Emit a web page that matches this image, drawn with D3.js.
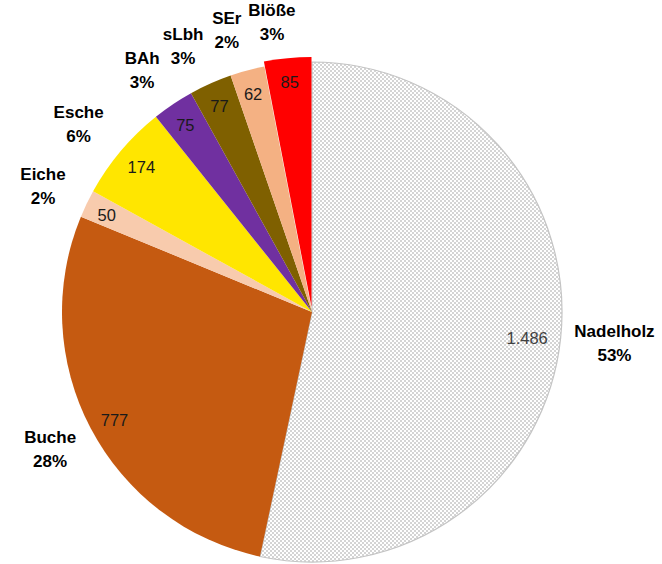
<!DOCTYPE html>
<html><head><meta charset="utf-8">
<script src="https://cdn.jsdelivr.net/npm/d3@7"></script>
<style>html,body{margin:0;padding:0;background:#fff;}svg{display:block;}</style>
</head><body>
<svg id="c" width="662" height="564"></svg>
<script>
const categories = ["Nadelholz","Buche","Eiche","Esche","BAh","sLbh","SEr","Blöße"];
const values = [1486,777,50,174,75,77,62,85];
const valueLabels = ["1.486","777","50","174","75","77","62","85"];
const percentLabels = ["53%","28%","2%","6%","3%","3%","2%","3%"];
const colors = ["url(#chk)","#c55a11","#f8cbad","#ffe600","#7030a0","#7f6000","#f4b183","#ff0000"];
const exploded = ["Blöße"];

const svg = d3.select("#c");
const cx = 312, cy = 312, R = 250;
const FONT = "Liberation Sans, Arial, sans-serif";
const defs = svg.append("defs");
const pat = defs.append("pattern").attr("id","chk").attr("patternUnits","userSpaceOnUse")
  .attr("width",4).attr("height",4);
pat.append("rect").attr("width",4).attr("height",4).attr("fill","#ffffff");
pat.append("rect").attr("width",2).attr("height",2).attr("fill","#d4d4d4");
pat.append("rect").attr("x",2).attr("y",2).attr("width",2).attr("height",2).attr("fill","#d4d4d4");

const data = categories.map((c,i)=>({cat:c,val:values[i],vl:valueLabels[i],pl:percentLabels[i],col:colors[i]}));
const pie = d3.pie().value(d=>d.val).sort(null);
const arcs = pie(data);
const arc = d3.arc().innerRadius(0).outerRadius(R);
const g = svg.append("g").attr("transform",`translate(${cx},${cy})`);
const maxVal = d3.max(values);
const mid = a => (a.startAngle+a.endAngle)/2;
const dir = a => [Math.sin(mid(a)), -Math.cos(mid(a))];
const pt = (a,r) => { const d=dir(a); return [d[0]*r, d[1]*r]; };
const shift = a => exploded.includes(a.data.cat) ? 5 : 0;

g.selectAll("path").data(arcs).join("path")
  .attr("d",arc)
  .attr("fill",d=>d.data.col)
  .attr("stroke",d=>d.data.val===maxVal?"#c4c4c4":"none")
  .attr("stroke-width",1.2)
  .attr("transform",d=>{ const s=shift(d); if(s){const p=pt(d,s);return `translate(${p[0]},${p[1]})`;} return null;});

// value labels: inside end
const vt = g.selectAll("text.v").data(arcs).join("text").attr("class","v")
  .attr("text-anchor","middle").attr("dominant-baseline","central")
  .attr("font-family",FONT).attr("font-size",16.5)
  .attr("fill",d=>d.data.val===maxVal?"#404040":"#1a1a1a")
  .text(d=>d.data.vl);
vt.each(function(d){
  const w = this.getComputedTextLength(), h = 18;
  const dd = dir(d), p = pt(d, 237 + shift(d));
  d3.select(this).attr("x", p[0] - dd[0]*w/2).attr("y", p[1] - dd[1]*h/2 + 2);
});

// category labels: outside end
const lab = g.selectAll("g.l").data(arcs).join("g").attr("class","l");
lab.append("text").attr("y",-12).attr("text-anchor","middle").attr("dominant-baseline","central")
  .attr("font-family",FONT).attr("font-size",17).attr("font-weight","bold")
  .attr("fill","#000").text(d=>d.data.cat);
lab.append("text").attr("y",12).attr("text-anchor","middle").attr("dominant-baseline","central")
  .attr("font-family",FONT).attr("font-size",17).attr("font-weight","bold")
  .attr("fill","#000").text(d=>d.data.pl);
lab.each(function(d){
  const texts = d3.select(this).selectAll("text").nodes();
  const w = d3.max(texts, t=>t.getComputedTextLength()), h = 48;
  const dd = dir(d);
  const rx = dd[0] > 0 ? 264 : 270, ry = 268;
  const spread = (dd[0] < 0 && dd[1] < 0) ? -12 * (-dd[1]) : 0;
  d3.select(this).attr("transform",
    `translate(${dd[0]*rx + dd[0]*w/2 + spread},${dd[1]*ry + dd[1]*h/2 + 1})`);
});
</script>
</body></html>
